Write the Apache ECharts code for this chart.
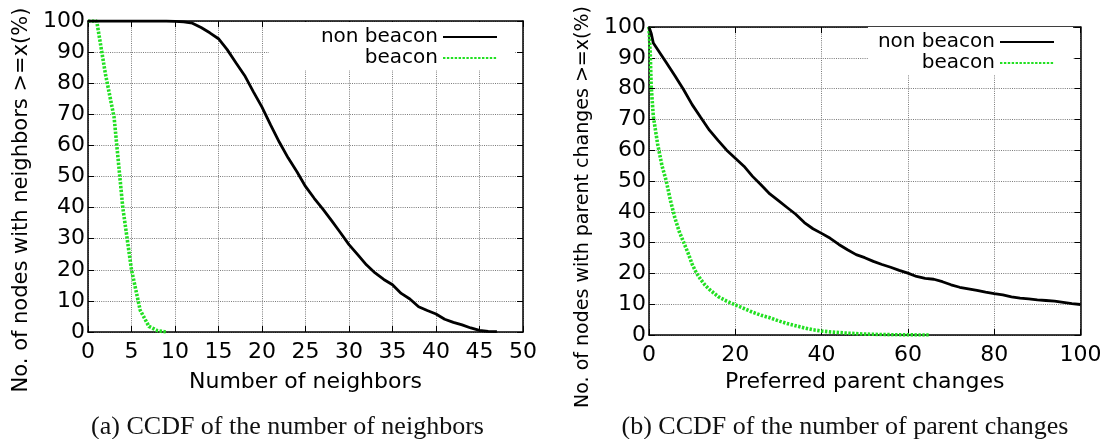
<!DOCTYPE html>
<html><head><meta charset="utf-8">
<script src="https://cdn.jsdelivr.net/npm/echarts@6/dist/echarts.min.js"></script>
<style>html,body{margin:0;padding:0;background:#fff}#c{width:1100px;height:439px}</style>
</head><body><div id="c"></div>
<script>
// ---- Data: (a) CCDF of the number of neighbors ----
const neighNonX = [0,1,2,3,4,5,6,7,8,9,10,11,12,13,14,15,16,17,18,19,20,21,22,23,24,25,26,27,28,29,30,31,32,33,34,35,36,37,38,39,40,41,42,43,44,45,46,47];
const neighNonY = [100,100,100,100,100,100,100,100,100,100,99.9,99.7,99.3,97.9,96.2,94.3,90.8,86.6,82.5,77.3,72.3,66.5,61.0,56.0,51.6,46.8,43.0,39.5,35.8,32.0,28.1,24.9,21.6,19.0,16.9,15.2,12.4,10.6,8.1,6.9,5.8,4.1,3.1,2.3,1.3,0.5,0.2,0.1];
const neighBeaconX = [0,1,2,3,4,5,6,7,8,9];
const neighBeaconY = [100,100,83,69,40,20,7,1.8,0.4,0];
const neighTicksX = [0,5,10,15,20,25,30,35,40,45,50];

// ---- Data: (b) CCDF of the number of parent changes ----
const parentNonX = [0,0.5,1,2,4,6,8,10,12,14,16,18,20,22,24,26,28,30,32,34,36,38,40,42,44,46,48,50,52,54,56,58,60,62,64,66,68,70,72,74,76,78,80,82,84,86,88,90,92,94,96,98,100];
const parentNonY = [100,98,94.8,92.7,88.5,84.2,79.7,74.8,70.6,66.5,63.2,60,57.4,54.8,51.5,48.7,45.8,43.6,41.4,39.2,36.5,34.5,33,31.4,29.4,27.7,26.1,25.1,23.9,22.9,22,21,20.1,19,18.4,18.1,17.3,16.3,15.5,15,14.5,13.9,13.4,13,12.4,12,11.7,11.4,11.2,11,10.6,10.2,9.9];
const parentBeaconX = [0,0.3,0.5,1,2,3,4,5,6,7,8,9,10,11,12,13,14,16,18,20,22,24,26,28,30,32,34,36,38,40,42,44,46,48,50,52,54,56,58,60,62,64,65];
const parentBeaconY = [100,91,81,71,62,55,50,43.5,38,33.6,30.2,26.8,23,20.1,18,16.2,14.8,12.5,11,9.8,8.6,7.4,6.4,5.6,4.6,3.7,3,2.3,1.7,1.3,1.0,0.8,0.6,0.45,0.3,0.22,0.15,0.1,0.06,0.04,0.02,0.01,0];
const yTicks = [0,10,20,30,40,50,60,70,80,90,100];

const seriesNames = ['non beacon','beacon'];
const titlesX = ['Number of neighbors','Preferred parent changes'];
const titlesY = ['No. of nodes with neighbors >=x(%)','No. of nodes with parent changes >=x(%)'];
const captions = ['(a) CCDF of the number of neighbors','(b) CCDF of the number of parent changes'];

const FONT = 'DejaVu Sans';
const GREEN = '#22e022';
const zip = (xs, ys) => xs.map((x, i) => [x, ys[i]]);

const chart = echarts.init(document.getElementById('c'), null, {renderer: 'canvas'});

const gridLine = {show: true, lineStyle: {color: '#7a7a7a', width: 1, type: [1, 1.2]}};
const axisLine = {show: true, onZero: false, lineStyle: {color: '#000', width: 1.5}};
const axisTick = {show: true, inside: true, length: 6, lineStyle: {color: '#000', width: 1}};

function xAxisMain(gi, max, interval, name, gap) {
  return {type: 'value', gridIndex: gi, min: 0, max: max, interval: interval, position: 'bottom',
    axisLine: axisLine, axisTick: axisTick, splitLine: gridLine,
    axisLabel: {color: '#000', fontSize: 22, fontFamily: FONT, margin: 9},
    name: name, nameLocation: 'middle', nameGap: gap,
    nameTextStyle: {color: '#000', fontSize: 22, fontFamily: FONT}};
}
function xAxisMirror(gi, max, interval) {
  return {type: 'value', gridIndex: gi, min: 0, max: max, interval: interval, position: 'top',
    axisLine: axisLine, axisTick: axisTick, splitLine: {show: false}, axisLabel: {show: false}};
}
function yAxisMain(gi) {
  return {type: 'value', gridIndex: gi, min: yTicks[0], max: yTicks[yTicks.length - 1], interval: 10, position: 'left',
    axisLine: axisLine, axisTick: axisTick, splitLine: gridLine,
    axisLabel: {color: '#000', fontSize: 22, fontFamily: FONT, margin: 3}};
}
function yAxisMirror(gi) {
  return {type: 'value', gridIndex: gi, min: 0, max: 100, interval: 10, position: 'right',
    axisLine: axisLine, axisTick: axisTick, splitLine: {show: false}, axisLabel: {show: false}};
}
function nonSeries(xi, data) {
  return {type: 'line', name: seriesNames[0], xAxisIndex: xi, yAxisIndex: xi, data: data,
    symbol: 'none', showSymbol: false, lineStyle: {color: '#000', width: 2.8}, itemStyle: {color: '#000'}, z: 3};
}
function beaconSeries(xi, data) {
  return {type: 'line', name: seriesNames[1], xAxisIndex: xi, yAxisIndex: xi, data: data,
    symbol: 'none', showSymbol: false, lineStyle: {color: GREEN, width: 3.6, type: [2.4, 1.5]}, itemStyle: {color: GREEN}, z: 2};
}
function legend(right, top, padding) {
  return {orient: 'vertical', align: 'right', right: right, top: top, padding: padding,
    backgroundColor: '#fff', itemWidth: 54, itemHeight: 10, itemGap: 1, selectedMode: false,
    itemStyle: {opacity: 0},
    textStyle: {fontSize: 20, fontFamily: FONT, color: '#000', lineHeight: 20},
    data: seriesNames, z: 4};
}
function yTitle(x, y, text, size) {
  return {type: 'text', x: x, y: y, rotation: Math.PI / 2,
    style: {text: text, fontSize: size, fontFamily: FONT, fill: '#000', align: 'center', verticalAlign: 'middle'}};
}

chart.setOption({
  animation: false,
  backgroundColor: '#fff',
  textStyle: {fontFamily: FONT},
  grid: [
    {left: 88, top: 21, width: 435, height: 311, containLabel: false, outerBoundsMode: 'none'},
    {left: 649, top: 27, width: 431.5, height: 308, containLabel: false, outerBoundsMode: 'none'}
  ],
  xAxis: [
    xAxisMain(0, neighTicksX[neighTicksX.length - 1], 5, titlesX[0], 39),
    xAxisMain(1, 100, 20, titlesX[1], 36),
    xAxisMirror(0, 50, 5),
    xAxisMirror(1, 100, 20)
  ],
  yAxis: [
    yAxisMain(0),
    yAxisMain(1),
    yAxisMirror(0),
    yAxisMirror(1)
  ],
  legend: [
    legend(585, 22, [5, 17, 2, 52]),
    legend(27, 27, [5, 18, 2, 10])
  ],
  series: [
    nonSeries(0, zip(neighNonX, neighNonY)),
    beaconSeries(0, zip(neighBeaconX, neighBeaconY)),
    nonSeries(1, zip(parentNonX, parentNonY)),
    beaconSeries(1, zip(parentBeaconX, parentBeaconY))
  ],
  graphic: [
    yTitle(22, 200, titlesY[0], 21),
    yTitle(583, 207, titlesY[1], 19),
    {type: 'text', x: 287.5, y: 427, style: {text: captions[0], fontSize: 26, fontFamily: 'Liberation Serif', fill: '#111', align: 'center', verticalAlign: 'middle'}},
    {type: 'text', x: 845, y: 427, style: {text: captions[1], fontSize: 26, fontFamily: 'Liberation Serif', fill: '#111', align: 'center', verticalAlign: 'middle'}}
  ]
});
</script></body></html>
